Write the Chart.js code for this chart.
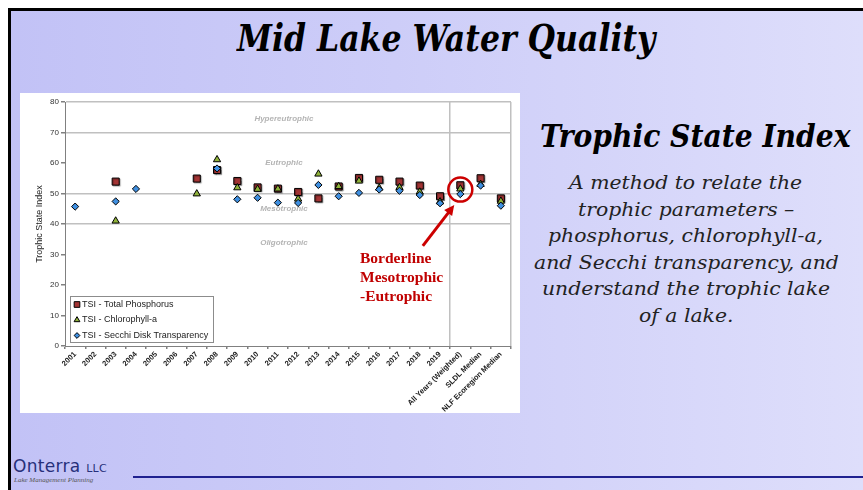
<!DOCTYPE html>
<html>
<head>
<meta charset="utf-8">
<script src="https://cdn.jsdelivr.net/npm/chart.js@4.4.0/dist/chart.umd.min.js"></script>
<style>
  body { margin:0; width:863px; height:490px; overflow:hidden; background:#fff; position:relative; }
  #slide { position:absolute; left:8px; top:8px; right:0; bottom:0; border-left:3px solid #000; border-top:3px solid #000;
           background:linear-gradient(to right,#c2c2f6 0%,#cdcdf8 45%,#dedefb 100%); }
  .txt { position:absolute; white-space:nowrap; transform-origin:left center; line-height:1; }
  #title { font-family:"DejaVu Serif Condensed","DejaVu Serif",serif; font-weight:bold; font-style:italic; font-size:38px; color:#000; top:19px; }
  #sub { font-family:"DejaVu Serif Condensed","DejaVu Serif",serif; font-weight:bold; font-style:italic; font-size:31px; color:#000; top:121px; }
  .body { font-family:"DejaVu Serif",serif; font-style:italic; font-size:18.5px; color:#222; }
  #chartBox { position:absolute; left:20px; top:93px; width:500px; height:320px; background:#fff; }
  #logo1 { position:absolute; left:13px; top:456px; font-family:"DejaVu Sans",sans-serif; font-size:17px; color:#27307a; letter-spacing:0.3px; }
  #logo1 small { font-size:11px; }
  #logo2 { position:absolute; left:14px; top:476px; font-family:"Liberation Serif",serif; font-style:italic; font-size:7px; color:#555; }
  #rule { position:absolute; left:133px; top:476px; right:0; height:2px; background:#1f2190; }
</style>
</head>
<body>
<div id="slide"></div>
<div id="title" class="txt">Mid Lake Water Quality</div>
<div id="sub" class="txt">Trophic State Index</div>
<div id="b0" class="txt body">A method to relate the</div>
<div id="b1" class="txt body">trophic parameters –</div>
<div id="b2" class="txt body">phosphorus, chlorophyll-a,</div>
<div id="b3" class="txt body">and Secchi transparency, and</div>
<div id="b4" class="txt body">understand the trophic lake</div>
<div id="b5" class="txt body">of a lake.</div>
<div id="chartBox"><canvas id="tsiChart" width="500" height="320"></canvas></div>
<div id="logo1">Onterra <small>LLC</small></div>
<div id="logo2">Lake Management Planning</div>
<div id="rule"></div>
<script>
const years = ['2001','2002','2003','2004','2005','2006','2007','2008','2009','2010',
  '2011','2012','2013','2014','2015','2016','2017','2018','2019',
  'All Years (Weighted)','SLDL Median','NLF Ecoregion Median'];
const tsiPhosphorus = [null,null,53.9,null,null,null,54.9,57.7,54.1,52.0,51.6,50.5,48.4,52.3,55.1,54.5,53.9,52.6,49.1,52.7,55.0,48.4];
const tsiChlorophyll = [null,null,41.0,null,null,null,49.9,61.1,51.9,51.4,51.5,48.2,56.4,52.3,54.1,51.8,52.0,50.5,47.3,51.5,53.0,47.5];
const tsiSecchi = [45.7,null,47.4,51.5,null,null,null,58.2,48.1,48.6,47.0,46.9,52.8,49.1,50.2,51.3,50.9,49.5,46.8,49.8,52.6,46.0];
const stateNames = ['Hypereutrophic','Eutrophic','Mesotrophic','Oligotrophic'];
const stateLevels = [74.5,60,45,34];
const boundaryLines = [40,50,70,80];

// slide text: stretch each line to the width seen on the slide
function place(id, cx, w, s) {
  const el = document.getElementById(id);
  const k = s || w / el.offsetWidth;
  el.style.left = (cx - el.offsetWidth * k / 2) + 'px';
  el.style.transform = 'scaleX(' + k + ')';
  return k;
}
place('title', 446, 418);
place('sub', 695, 310);
const k = 305 / document.getElementById('b3').offsetWidth;
['b0','b1','b2','b3','b4','b5'].forEach((id, i) => {
  place(id, 686, 0, k);
  document.getElementById(id).style.top = (174 + i * 26.6) + 'px';
});

const gray = '#c0c0c0';
const overlay = {
  id: 'overlay',
  beforeDatasetsDraw(chart) {
    const { ctx, scales: { x, y } } = chart;
    ctx.save();
    ctx.font = 'italic bold 8px "Liberation Sans", Arial';
    ctx.fillStyle = '#b4b4b4';
    ctx.textAlign = 'center';
    ctx.textBaseline = 'middle';
    stateNames.forEach((n, i) => ctx.fillText(n, x.getPixelForValue(10.3), y.getPixelForValue(stateLevels[i])));
    ctx.restore();
  },
  beforeDatasetDraw(chart, args) {
    const ctx = chart.ctx;
    ctx.save();
    if (args.index === 0) {
      ctx.shadowColor = 'rgba(0,0,0,0.35)';
      ctx.shadowOffsetX = 1; ctx.shadowOffsetY = 1; ctx.shadowBlur = 1;
    }
  },
  afterDatasetDraw(chart) { chart.ctx.restore(); },
  afterDraw(chart) {
    const { ctx, scales: { x, y } } = chart;
    ctx.save();
    // legend
    const lx = 50, ly = 203;
    ctx.fillStyle = '#fff';
    ctx.fillRect(lx, ly, 143, 46);
    ctx.strokeStyle = '#8c8c8c';
    ctx.lineWidth = 1;
    ctx.strokeRect(lx + 0.5, ly + 0.5, 143, 46);
    ctx.font = '9px "Liberation Sans", Arial';
    ctx.textBaseline = 'middle';
    chart.data.datasets.forEach((ds, i) => {
      const yy = ly + 8.5 + i * 15.5;
      ctx.fillStyle = ds.pointBackgroundColor;
      ctx.strokeStyle = '#000';
      Chart.helpers.drawPoint(ctx, { pointStyle: ds.pointStyle, radius: ds.pointRadius * 0.8, rotation: 0, borderWidth: 1 }, lx + 7, yy);
      ctx.fillStyle = '#222';
      ctx.fillText(ds.label, lx + 12, yy);
    });
    // red circle + arrow + note
    const cx = x.getPixelForValue(19), cy = y.getPixelForValue(51.3);
    ctx.strokeStyle = '#cc0000';
    ctx.lineWidth = 2.5;
    ctx.beginPath(); ctx.arc(cx, cy, 12, 0, Math.PI * 2); ctx.stroke();
    const x1 = x.getPixelForValue(17.15), y1 = y.getPixelForValue(32.8);
    const x2 = x.getPixelForValue(18.7), y2 = y.getPixelForValue(46.2);
    const a = Math.atan2(y2 - y1, x2 - x1);
    ctx.lineWidth = 3;
    ctx.beginPath(); ctx.moveTo(x1, y1); ctx.lineTo(x2 - 6 * Math.cos(a), y2 - 6 * Math.sin(a)); ctx.stroke();
    ctx.fillStyle = '#cc0000';
    ctx.beginPath();
    ctx.moveTo(x2, y2);
    ctx.lineTo(x2 - 10 * Math.cos(a) + 5 * Math.sin(a), y2 - 10 * Math.sin(a) - 5 * Math.cos(a));
    ctx.lineTo(x2 - 10 * Math.cos(a) - 5 * Math.sin(a), y2 - 10 * Math.sin(a) + 5 * Math.cos(a));
    ctx.closePath(); ctx.fill();
    ctx.font = 'bold 15.5px "Liberation Serif", serif';
    ctx.fillStyle = '#c00000';
    ctx.textAlign = 'left';
    ['Borderline', 'Mesotrophic', '-Eutrophic'].forEach((t, i) => ctx.fillText(t, 340, 166 + i * 19));
    ctx.restore();
  }
};

const ctx = document.getElementById('tsiChart').getContext('2d');
const chart = new Chart(ctx, {
  type: 'line',
  data: {
    labels: years,
    datasets: [
      { label: 'TSI - Total Phosphorus', data: tsiPhosphorus, showLine: false, pointStyle: 'rect', pointRadius: 5,
        pointBackgroundColor: '#a33434', pointBorderColor: '#000', pointBorderWidth: 1, order: 3 },
      { label: 'TSI - Chlorophyll-a', data: tsiChlorophyll, showLine: false, pointStyle: 'triangle', pointRadius: 4.2,
        pointBackgroundColor: '#8fb23a', pointBorderColor: '#000', pointBorderWidth: 1, order: 2 },
      { label: 'TSI - Secchi Disk Transparency', data: tsiSecchi, showLine: false, pointStyle: 'rectRot', pointRadius: 3.6,
        pointBackgroundColor: '#3f8fe0', pointBorderColor: '#000', pointBorderWidth: 1, order: 1 }
    ]
  },
  options: {
    responsive: false,
    animation: false,
    layout: { padding: { top: 9, right: 9, left: 14, bottom: 0 } },
    plugins: { legend: { display: false }, tooltip: { enabled: false } },
    scales: {
      x: {
        offset: true,
        grid: { offset: true, lineWidth: 1.5, tickLength: 3, tickColor: '#808080',
                color: c => (c.index === 19 || c.index === undefined) ? gray : 'transparent' },
        border: { color: '#808080' },
        ticks: { autoSkip: false, minRotation: 45, maxRotation: 45, padding: 1, color: '#222',
                 font: { family: '"Liberation Sans", Arial', size: 7.5, weight: 'bold' } },
        afterFit: s => { s.height = 67; }
      },
      y: {
        min: 0, max: 80,
        ticks: { stepSize: 10, padding: 2, color: '#333', font: { family: '"Liberation Sans", Arial', size: 8 } },
        grid: { lineWidth: 1.5, tickLength: 4, tickColor: '#808080',
                color: c => boundaryLines.includes(c.tick.value) ? gray : 'transparent' },
        border: { color: '#808080' },
        title: { display: true, text: 'Trophic State Index', color: '#222', padding: 0,
                 font: { family: '"Liberation Sans", Arial', size: 9 } },
        afterFit: s => { s.width = 31; }
      }
    }
  },
  plugins: [overlay]
});
</script>
</body>
</html>
